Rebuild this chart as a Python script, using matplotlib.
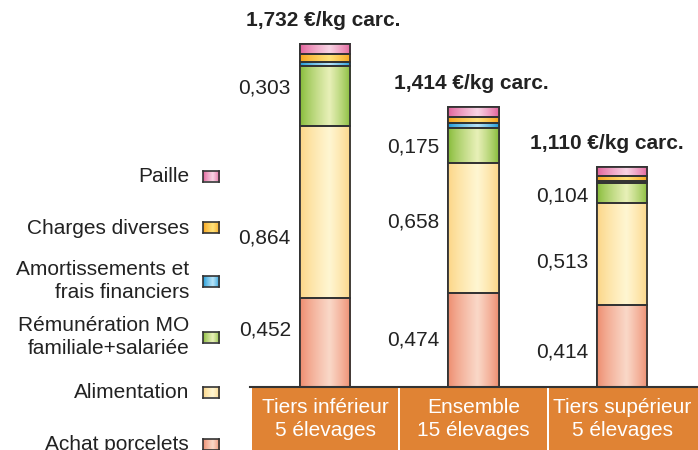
import numpy as np
import matplotlib.pyplot as plt
from matplotlib.patches import Rectangle
from matplotlib.colors import to_rgb

plt.rcParams['font.family'] = ['Liberation Sans', 'DejaVu Sans']

# data (€/kg carcasse), bottom to top
groups = ["Tiers inférieur\n5 élevages", "Ensemble\n15 élevages", "Tiers supérieur\n5 élevages"]
achat = [0.452, 0.474, 0.414]
alim = [0.864, 0.658, 0.513]
remu = [0.303, 0.175, 0.104]
amort = [0.023, 0.027, 0.008]
charges = [0.040, 0.032, 0.026]
paille = [0.050, 0.048, 0.045]
series = [achat, alim, remu, amort, charges, paille]
names = ["Achat porcelets", "Alimentation", "Rémunération MO\nfamiliale+salariée",
         "Amortissements et\nfrais financiers", "Charges diverses", "Paille"]
# (edge colour, highlight colour) for the shaded bars
colors = [("#ee8c6e", "#fad8c8"), ("#fcd585", "#fff6d2"), ("#86bb38", "#e8f0b8"),
          ("#1c9ad8", "#b8e4f8"), ("#f7a21a", "#ffe27a"), ("#e2609a", "#f8d4e4")]

# where the value labels sit (data y), per bar
label_y = [[0.288, 0.752, 1.51], [0.237, 0.833, 1.212], [0.177, 0.631, 0.965]]
title_dx = [0, 0, -0.09]

W, H = 698, 450
fig = plt.figure(figsize=(W / 100, H / 100), dpi=100)
ax = fig.add_axes([250 / W, 63 / H, 448 / W, 387 / H])
ymax = 387 / 198
xlim = (-0.505, 2.51)

x = np.arange(len(groups))
width = 0.34
bottom = np.zeros(len(groups))


def gradient_img(c0, c1, n=64, peak=0.58):
    t = np.linspace(0, 1, n)
    w = np.where(t < peak, t / peak, (1 - t) / (1 - peak))
    w = np.clip(w, 0, 1) ** 0.8
    a, b = np.array(to_rgb(c0)), np.array(to_rgb(c1))
    return (a[None, :] * (1 - w[:, None]) + b[None, :] * w[:, None])[None, :, :]


for vals, (c0, c1) in zip(series, colors):
    bars = ax.bar(x, vals, width, bottom=bottom, color=c0, edgecolor="#333333",
                  linewidth=1.3, zorder=3)
    for b in bars:
        bx, by = b.get_x(), b.get_y()
        im = ax.imshow(gradient_img(c0, c1), extent=[bx, bx + b.get_width(), by, by + b.get_height()],
                       aspect="auto", zorder=3.5, interpolation="bilinear")
        im.set_clip_path(b)
        edge = Rectangle((bx, by), b.get_width(), b.get_height(), fill=False,
                         edgecolor="#333333", linewidth=1.3, zorder=4)
        ax.add_patch(edge)
    bottom += np.array(vals)

# value labels for the three main segments
for i in range(len(groups)):
    for j, vals in enumerate(series[:3]):
        ax.text(x[i] - width / 2 - 0.06, label_y[i][j], f"{vals[i]:.3f}".replace(".", ","),
                ha="right", va="center", fontsize=15, color="#222222")
    total = sum(s[i] for s in series)
    ax.annotate(f"{total:.3f}".replace(".", ",") + " €/kg carc.", (x[i] + title_dx[i], total),
                xytext=(-2, 14), textcoords="offset pixels", ha="center", va="bottom",
                fontsize=15, fontweight="bold", color="#222222")

# baseline and category boxes
ax.plot([xlim[0], xlim[1]], [0, 0], color="#333333", lw=1.5, zorder=5, clip_on=False)
for i, g in enumerate(groups):
    ax.add_patch(Rectangle((i - 0.5 + 0.007, -0.33), 1 - 0.014 + (0.02 if i == 2 else 0), 0.323,
                           facecolor="#e08334", edgecolor="none", clip_on=False, zorder=2))
    ax.text(i, -0.162, g, ha="center", va="center", fontsize=15, color="white",
            linespacing=1.3, zorder=6)

ax.set_xlim(*xlim)
ax.set_ylim(0, ymax)
ax.axis("off")

# legend on the left, in pixel positions
leg_y = [444, 392, 337, 281, 228, 176]
for name, (c0, c1), yc in zip(names, colors, leg_y):
    fig.text(189 / W, 1 - yc / H, name, ha="right", va="center", fontsize=15,
             color="#222222", linespacing=1.3)
    sw = fig.add_axes([203 / W, 1 - (yc + 5.5) / H, 16 / W, 11 / H])
    sw.imshow(gradient_img(c0, c1), aspect="auto", interpolation="bilinear")
    sw.set_xticks([])
    sw.set_yticks([])
    for s in sw.spines.values():
        s.set_color("#333333")
        s.set_linewidth(1.2)

fig.savefig("out.png", dpi=100)
